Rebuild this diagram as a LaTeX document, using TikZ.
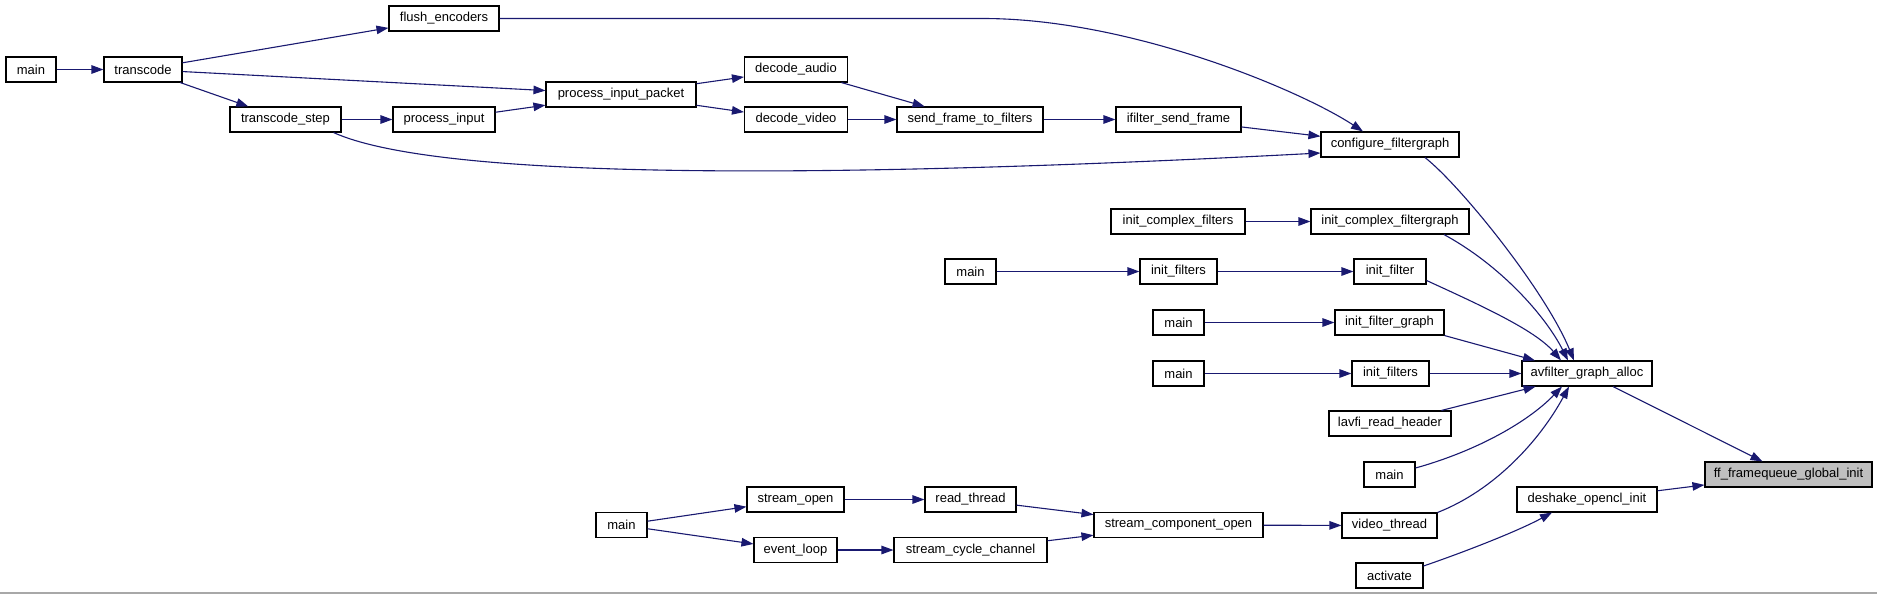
\documentclass[tikz,border=0pt]{standalone}
\usepackage{fontspec}
\setmainfont{Liberation Sans}
\usetikzlibrary{arrows.meta}
\definecolor{edgeblue}{HTML}{191970}
\definecolor{hlgray}{HTML}{BFBFBF}
\definecolor{sepgray}{HTML}{A8A8A8}
\begin{document}
\begin{tikzpicture}[x=1pt,y=-1pt,
  fn/.style={draw=black, line width=1.1pt, fill=white, inner sep=0pt, minimum height=25pt, font=\fontsize{13}{15}\selectfont},
  call/.style={draw=edgeblue, line width=1.1pt, -{Triangle[length=12pt,width=8.5pt]}, fill=none},
]
\useasboundingbox (0,0) rectangle (1877,595);
\fill[white] (0,0) rectangle (1877,595);
\draw[sepgray, line width=1.5pt] (0,593) -- (1877,593);

% nodes
\node[fn, minimum width=50pt]  (main1)     at (31,69.5)     {main};
\node[fn, minimum width=78pt]  (transcode) at (143,69.5)    {transcode};
\node[fn, minimum width=110pt] (flush)     at (444,18.5)    {flush\_encoders};
\node[fn, minimum width=150pt] (pip)       at (621,94.5)    {process\_input\_packet};
\node[fn, minimum width=111pt] (tstep)     at (285.5,119.5) {transcode\_step};
\node[fn, minimum width=102pt] (pinput)    at (444,119.5)   {process\_input};
\node[fn, minimum width=103pt] (daudio)    at (796,69.5)    {decode\_audio};
\node[fn, minimum width=103pt] (dvideo)    at (796,119.5)   {decode\_video};
\node[fn, minimum width=146pt] (sendf)     at (970,119.5)   {send\_frame\_to\_filters};
\node[fn, minimum width=125pt] (ifsend)    at (1178.5,119.5) {ifilter\_send\_frame};
\node[fn, minimum width=138pt] (config)    at (1390,144.5)  {configure\_filtergraph};
\node[fn, minimum width=134pt] (icf)       at (1178,221.5)  {init\_complex\_filters};
\node[fn, minimum width=158pt] (icfg)      at (1390,221.5)  {init\_complex\_filtergraph};
\node[fn, minimum width=51pt]  (main2)     at (970.5,271.5) {main};
\node[fn, minimum width=77pt]  (ifilters1) at (1178.5,271.5) {init\_filters};
\node[fn, minimum width=72pt]  (ifilter)   at (1390,271.5)  {init\_filter};
\node[fn, minimum width=51pt]  (main3)     at (1178.5,322.5) {main};
\node[fn, minimum width=109pt] (ifgraph)   at (1389.5,322.5) {init\_filter\_graph};
\node[fn, minimum width=51pt]  (main4)     at (1178.5,373.5) {main};
\node[fn, minimum width=77pt]  (ifilters2) at (1390.5,373.5) {init\_filters};
\node[fn, minimum width=130pt] (avf)       at (1587,373.5)  {avfilter\_graph\_alloc};
\node[fn, minimum width=122pt] (lavfi)     at (1390,423.5)  {lavfi\_read\_header};
\node[fn, minimum width=51pt]  (main5)     at (1389.5,474.5) {main};
\node[fn, minimum width=95pt]  (vthread)   at (1389.5,525.5) {video\_thread};
\node[fn, minimum width=67pt]  (activate)  at (1389.5,575.5) {activate};
\node[fn, minimum width=140pt] (deshake)   at (1587,499.5)  {deshake\_opencl\_init};
\node[fn, minimum width=167pt, fill=hlgray] (ffq) at (1788.5,474.5) {ff\_framequeue\_global\_init};
\node[fn, minimum width=51pt]  (main6)     at (621.5,525)   {main};
\node[fn, minimum width=97pt]  (sopen)     at (795.5,499.5) {stream\_open};
\node[fn, minimum width=91pt]  (rthread)   at (970.5,499.5) {read\_thread};
\node[fn, minimum width=83pt]  (evloop)    at (795.5,550)   {event\_loop};
\node[fn, minimum width=153pt] (scc)       at (970.5,550)   {stream\_cycle\_channel};
\node[fn, minimum width=169pt] (scopen)    at (1178.5,525)  {stream\_component\_open};

% edges
\draw[call] (main1) -- (transcode);
\draw[call] (transcode) -- (flush);
\draw[call] (transcode) -- (pip);
\draw[call] (transcode) -- (tstep);
\draw[call] (tstep) -- (pinput);
\draw[call] (pinput) -- (pip);
\draw[call] (pip) -- (daudio);
\draw[call] (pip) -- (dvideo);
\draw[call] (daudio) -- (sendf);
\draw[call] (dvideo) -- (sendf);
\draw[call] (sendf) -- (ifsend);
\draw[call] (ifsend) -- (config);
\draw[call] (flush.east) -- (983,18.5) .. controls (1130,18.5) and (1300,90) .. ([xshift=-27pt]config.north);
\draw[call] ([xshift=-8pt]tstep.south east) .. controls (450,185) and (900,175) .. ([yshift=-8.5pt]config.west);
\draw[call] ([xshift=35pt]config.south) .. controls (1460,185) and (1545,290) .. ([xshift=-13pt]avf.north);
\draw[call] (icf) -- (icfg);
\draw[call] ([xshift=54pt]icfg.south) .. controls (1500,265) and (1545,315) .. ([xshift=-19pt]avf.north);
\draw[call] (main2) -- (ifilters1);
\draw[call] (ifilters1) -- (ifilter);
\draw[call] ([yshift=-9pt]ifilter.east) .. controls (1480,305) and (1535,330) .. ([xshift=-26pt]avf.north);
\draw[call] (main3) -- (ifgraph);
\draw[call] (ifgraph.south east) -- ([xshift=-52pt]avf.north);
\draw[call] (main4) -- (ifilters2);
\draw[call] (ifilters2) -- (avf);
\draw[call] (lavfi) -- (avf);
\draw[call] ([yshift=6.5pt]main5.east) .. controls (1480,450) and (1530,420) .. ([xshift=-25pt]avf.south);
\draw[call] (vthread.north east) .. controls (1495,490) and (1540,440) .. ([xshift=-18pt]avf.south);
\draw[call] (avf) -- (ffq);
\draw[call] (deshake) -- (ffq);
\draw[call] ([yshift=9.5pt]activate.east) .. controls (1470,550) and (1520,530) .. ([xshift=-35pt]deshake.south);
\draw[call] (main6) -- (sopen);
\draw[call] (main6) -- (evloop);
\draw[call] (sopen) -- (rthread);
\draw[call] (evloop) -- (scc);
\draw[call] (rthread) -- (scopen);
\draw[call] (scc) -- (scopen);
\draw[call] (scopen) -- (vthread);
\end{tikzpicture}
\end{document}
